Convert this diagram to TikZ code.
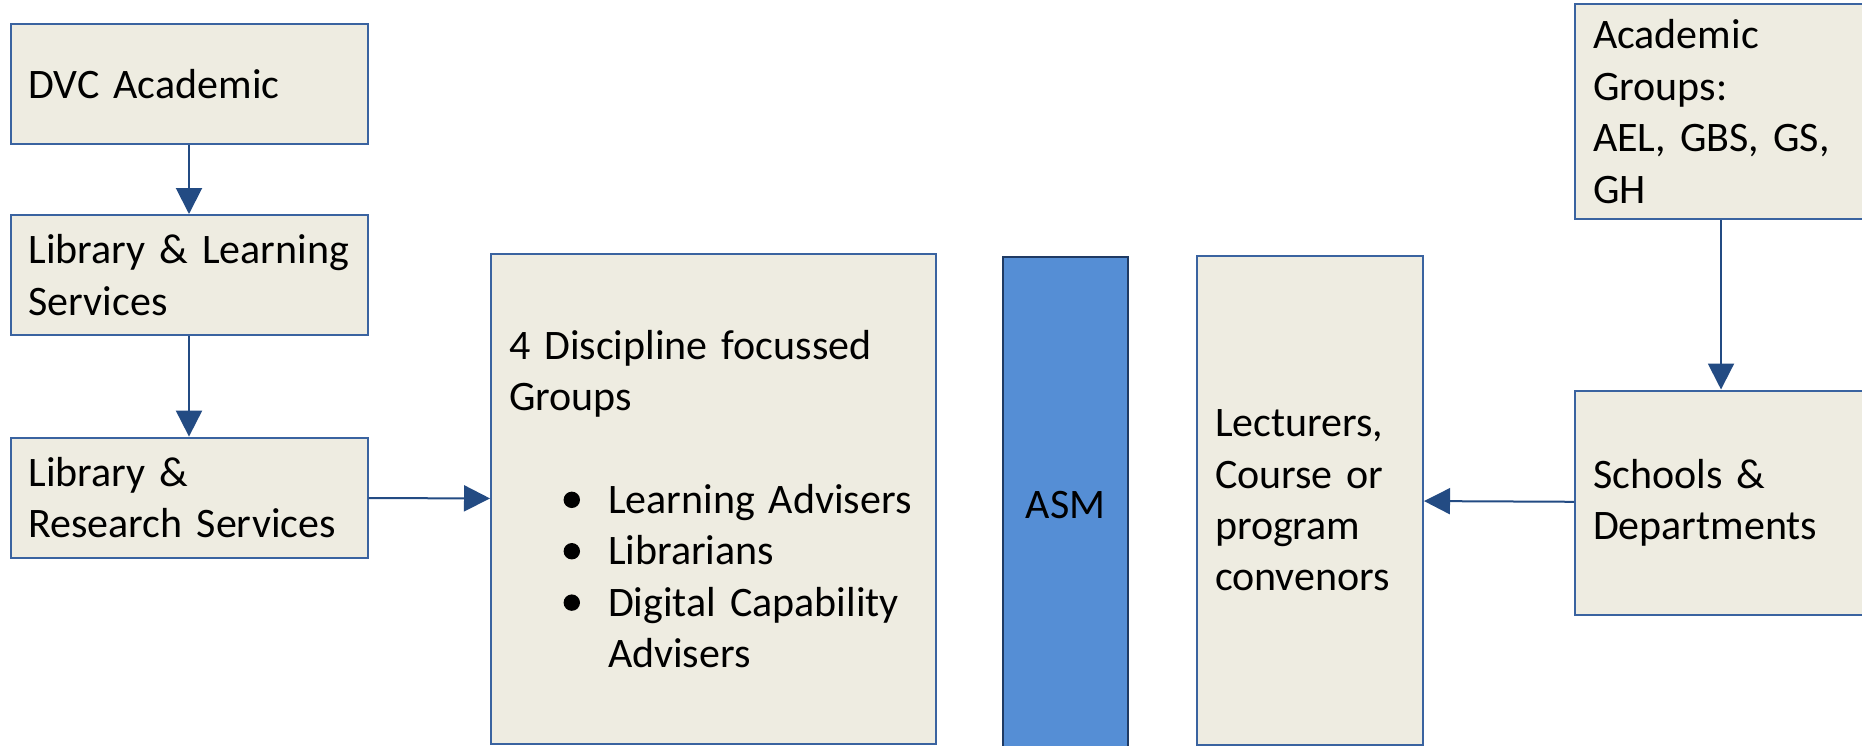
\documentclass[tikz,border=0pt]{standalone}
\usepackage{fontspec}
\setmainfont{Carlito}
\usetikzlibrary{positioning, arrows.meta}

\definecolor{boxfill}{HTML}{EEECE1}
\definecolor{boxline}{HTML}{3A63A0}
\definecolor{arrowblue}{HTML}{234B83}
\definecolor{asmfill}{HTML}{558ED5}
\definecolor{asmline}{HTML}{1F3A63}

\newcommand{\blob}{\tikz[x=1pt,y=1pt,baseline=-6.8pt]\fill (0,0) circle (4.1pt);}
\newcommand{\bitem}[1]{\hspace*{27.3pt}\makebox[22.2pt][l]{\blob}#1}

\begin{document}
\begin{tikzpicture}[x=0.5pt, y=-0.5pt, font=\fontsize{21}{25.7}\selectfont,
  box/.style={draw=boxline, line width=1pt, fill=boxfill, align=left,
    inner xsep=9pt, inner ysep=0pt, anchor=north west},
  link/.style={draw=arrowblue, line width=1pt,
    -{Triangle[length=13pt, width=13pt]}}]
\useasboundingbox (0,0) rectangle (1862,745);

% left column
\node[box, text width=160.5pt, minimum height=60pt] (dvc) at (9.5,23) {DVC Academic};
\node[box, text width=160.5pt, minimum height=60pt, below=34.5pt of dvc] (lls)
    {Library \& Learning\\Services};
\node[box, text width=160.5pt, minimum height=60pt, below=50.3pt of lls] (lrs)
    {Library \&\\Research Services};

% middle
\node[box, text width=204.5pt, minimum height=245pt] (disc) at (490,253)
    {4 Discipline focussed\\Groups\\[25.7pt]
     \bitem{Learning Advisers}\\
     \bitem{Librarians}\\
     \bitem{Digital Capability}\\
     \hspace*{49.5pt}Advisers};
\node[draw=asmline, line width=1.2pt, fill=asmfill, minimum width=62.5pt,
    minimum height=247.5pt, inner sep=0pt, anchor=north west] (asm) at (1002,256) {ASM};
\node[box, text width=95pt, minimum height=244.5pt] (lect) at (1196,255)
    {Lecturers,\\Course or\\program\\convenors};

% right column
\node[box, text width=128pt, minimum height=107.5pt] (acad) at (1574,3)
    {Academic\\Groups:\\AEL, GBS, GS,\\GH};
\node[box, text width=128pt, minimum height=112pt] (sch) at (1574,389.5)
    {Schools \&\\Departments};

\draw[link] (dvc) -- (lls);
\draw[link] (lls) -- (lrs);
\draw[link] (lrs) -- (disc);
\draw[link] (acad) -- (sch);
\draw[link] (sch) -- (lect);
\end{tikzpicture}
\end{document}
